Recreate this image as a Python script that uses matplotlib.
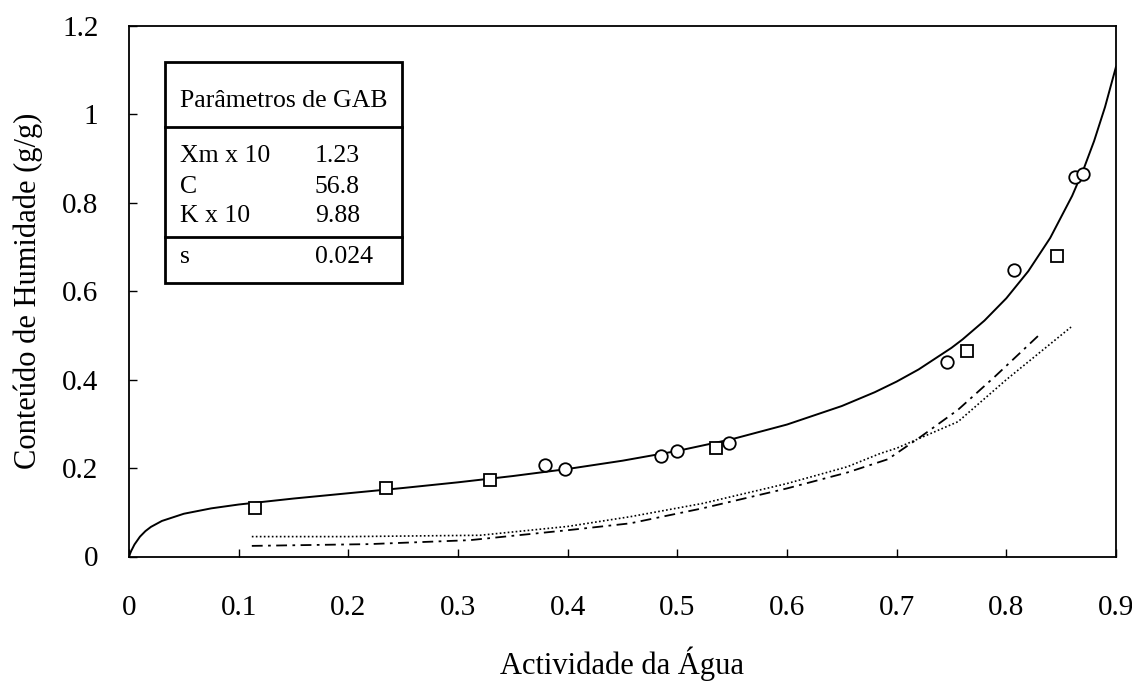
import matplotlib
matplotlib.use("Agg")
import matplotlib.pyplot as plt
from matplotlib.patches import Rectangle
from matplotlib.lines import Line2D

# ---- data ----
gab_aw = [0.0, 0.001, 0.002, 0.005, 0.01, 0.015, 0.02, 0.03, 0.05, 0.075, 0.1, 0.15, 0.2, 0.25,
          0.3, 0.35, 0.4, 0.45, 0.5, 0.55, 0.6, 0.65, 0.68, 0.7, 0.72, 0.75, 0.76, 0.78, 0.8,
          0.82, 0.84, 0.86, 0.87, 0.88, 0.89, 0.9]
gab_x = [0.0, 0.0066, 0.0125, 0.0272, 0.0449, 0.0575, 0.0670, 0.0804, 0.0967, 0.1089, 0.1176,
         0.1311, 0.1431, 0.1550, 0.1678, 0.1820, 0.1980, 0.2167, 0.2388, 0.2655, 0.2985, 0.3404,
         0.3716, 0.3957, 0.4231, 0.4720, 0.4909, 0.5335, 0.5841, 0.6453, 0.7206, 0.8157, 0.8733,
         0.9396, 1.0168, 1.1077]

sq_aw = [0.115, 0.234, 0.329, 0.535, 0.764, 0.846]
sq_x = [0.110, 0.154, 0.173, 0.246, 0.464, 0.679]

ci_aw = [0.379, 0.398, 0.485, 0.500, 0.547, 0.746, 0.807, 0.863, 0.870]
ci_x = [0.207, 0.198, 0.227, 0.239, 0.256, 0.440, 0.649, 0.858, 0.866]

dot_aw = [0.112, 0.2, 0.32, 0.40, 0.457, 0.523, 0.60, 0.655, 0.685, 0.70, 0.756, 0.80, 0.859]
dot_x = [0.045, 0.045, 0.048, 0.068, 0.090, 0.120, 0.165, 0.203, 0.233, 0.245, 0.305, 0.400, 0.519]

dd_aw = [0.112, 0.219, 0.311, 0.402, 0.457, 0.523, 0.60, 0.655, 0.692, 0.722, 0.756, 0.790, 0.832]
dd_x = [0.024, 0.028, 0.037, 0.060, 0.075, 0.109, 0.154, 0.190, 0.220, 0.271, 0.332, 0.408, 0.506]

x_ticks = [0, 0.1, 0.2, 0.3, 0.4, 0.5, 0.6, 0.7, 0.8, 0.9]
x_ticklabels = ["0", "0.1", "0.2", "0.3", "0.4", "0.5", "0.6", "0.7", "0.8", "0.9"]
y_ticks = [0, 0.2, 0.4, 0.6, 0.8, 1.0, 1.2]
y_ticklabels = ["0", "0.2", "0.4", "0.6", "0.8", "1", "1.2"]

table_title = "Parâmetros de GAB"
table_names = ["Xm x 10", "C", "K x 10"]
table_values = ["1.23", "56.8", "9.88"]
s_name, s_value = "s", "0.024"

# ---- figure ----
plt.rcParams['font.family'] = ['Liberation Serif', 'DejaVu Serif']
W, H = 1132, 682
fig = plt.figure(figsize=(W / 100, H / 100), dpi=100)
L, R, T, B = 129, 1116, 26, 556.5
ax = fig.add_axes([L / W, 1 - B / H, (R - L) / W, (B - T) / H])

ax.plot(gab_aw, gab_x, color='black', lw=1.4, zorder=2)
ax.plot(dot_aw, dot_x, color='black', lw=1.2, linestyle=(0, (1, 1.4)), zorder=2)
ax.plot(dd_aw, dd_x, color='black', lw=1.3, linestyle=(0, (6, 3, 1.5, 3)), zorder=2)
ax.plot(sq_aw, sq_x, linestyle='none', marker='s', ms=8.5, mfc='white', mec='black',
        mew=1.3, zorder=3)
ax.plot(ci_aw, ci_x, linestyle='none', marker='o', ms=9, mfc='white', mec='black',
        mew=1.3, zorder=3)

ax.set_xlim(0, 0.9)
ax.set_ylim(0, 1.2)
ax.set_xticks(x_ticks)
ax.set_xticklabels(x_ticklabels)
ax.set_yticks(y_ticks)
ax.set_yticklabels(y_ticklabels)
ax.tick_params(axis='both', direction='in', length=6, width=1.0, labelsize=21)
ax.tick_params(axis='x', pad=28)
ax.tick_params(axis='y', pad=22)
for sp in ax.spines.values():
    sp.set_linewidth(1.3)

ax.set_xlabel("Actividade da Água", fontsize=22, labelpad=18)
ax.set_ylabel("Conteúdo de Humidade (g/g)", fontsize=22, labelpad=14)

# ---- parameter table (figure pixel coordinates) ----
def fx(px):
    return px / W

def fy(py):
    return 1 - py / H

bx0, bx1, by0, by1 = 165, 402, 62, 283
fig.patches.append(Rectangle((fx(bx0), fy(by1)), fx(bx1) - fx(bx0), fy(by0) - fy(by1),
                             transform=fig.transFigure, fill=False, lw=2.0, ec='black'))
for yy in (127, 237):
    fig.lines.append(Line2D([fx(bx0), fx(bx1)], [fy(yy), fy(yy)], transform=fig.transFigure,
                            color='black', lw=2.0))

fs = 18.5
fig.text(fx(180), fy(107), table_title, fontsize=fs, va='baseline', ha='left')
row_base = [162, 193, 222]
for name, val, yb in zip(table_names, table_values, row_base):
    fig.text(fx(180), fy(yb), name, fontsize=fs, va='baseline', ha='left')
    fig.text(fx(315), fy(yb), val, fontsize=fs, va='baseline', ha='left')
fig.text(fx(180), fy(263), s_name, fontsize=fs, va='baseline', ha='left')
fig.text(fx(315), fy(263), s_value, fontsize=fs, va='baseline', ha='left')

fig.savefig("out.png", dpi=100)
